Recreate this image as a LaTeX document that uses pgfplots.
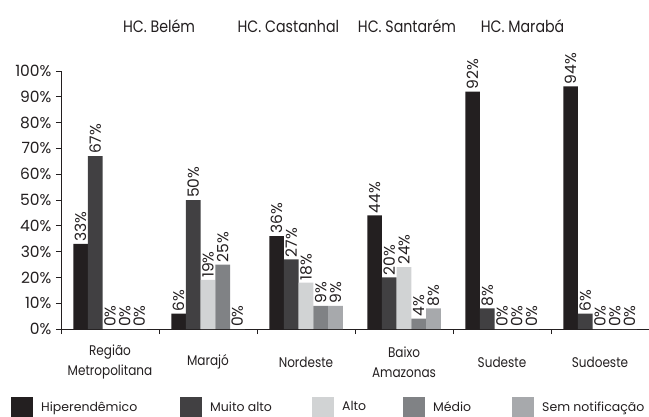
\documentclass[border=0pt]{standalone}
\usepackage{fontspec}
\setmainfont{Poppins}
\usepackage{pgfplots}
\pgfplotsset{compat=1.18}

\definecolor{hiper}{HTML}{231F20}
\definecolor{muito}{HTML}{414042}
\definecolor{alto}{HTML}{D1D3D4}
\definecolor{medio}{HTML}{808285}
\definecolor{semnot}{HTML}{A7A9AC}
\definecolor{txt}{HTML}{231F20}

% legend text in a cell of fixed width
\newcommand\leg[2]{\makebox[#1][l]{#2}}

\begin{document}
\begin{tikzpicture}[font=\fontsize{14bp}{16bp}\selectfont, text=txt]
\begin{axis}[
  scale only axis, width=588bp, height=258bp,
  xmin=-0.5, xmax=5.5, ymin=0, ymax=100,
  ybar=0pt, bar width=14.7bp,
  /pgf/number format/assume math mode=true,
  axis x line=bottom, axis y line=left,
  axis line style={-, draw=txt, line width=0.7pt},
  xtick={0,...,5},
  xticklabels={{Região\\Metropolitana}, Marajó, Nordeste, {Baixo\\Amazonas}, Sudeste, Sudoeste},
  xticklabel style={align=center, anchor=center, yshift=-28bp, xscale=0.86,
    font=\fontsize{14bp}{20.5bp}\selectfont},
  major x tick style={draw=none},
  minor xtick={-0.5,0.5,...,5.5},
  minor tick length=5bp, major tick length=5bp, tick align=outside,
  tick style={draw=txt, line width=0.7pt},
  ytick={0,10,...,100},
  yticklabel={\pgfmathprintnumber{\tick}\%},
  yticklabel style={xshift=-1bp, font=\fontsize{15.5bp}{17bp}\selectfont},
  nodes near coords={\pgfmathprintnumber{\pgfplotspointmeta}\%},
  every node near coord/.append style={rotate=90, anchor=west, inner sep=2bp, text=txt,
    font=\fontsize{15.5bp}{17bp}\selectfont},
  clip=false,
  legend image code/.code={\fill[#1] (0bp,-10bp) rectangle (22bp,10bp);},
  legend columns=5,
  legend cell align=left,
  legend style={draw=none, fill=none, inner sep=0pt, at={(axis description cs:0,0)}, anchor=west,
    xshift=-50bp, yshift=-78bp, font=\fontsize{12.5bp}{15bp}\selectfont,
    nodes={inner sep=0pt},
    /tikz/every odd column/.append style={column sep=8bp},
    /tikz/every even column/.append style={column sep=0bp}},
]
% Hiperendêmico, Muito alto, Alto, Médio, Sem notificação per region
\addplot[fill=hiper, draw=none] coordinates {(0,33) (1,6) (2,36) (3,44) (4,92) (5,94)};
\addplot[fill=muito, draw=none] coordinates {(0,67) (1,50) (2,27) (3,20) (4,8) (5,6)};
\addplot[fill=alto, draw=none] coordinates {(0,0) (1,19) (2,18) (3,24) (4,0) (5,0)};
\addplot[fill=medio, draw=none] coordinates {(0,0) (1,25) (2,9) (3,4) (4,0) (5,0)};
\addplot[fill=semnot, draw=none] coordinates {(0,0) (1,0) (2,9) (3,8) (4,0) (5,0)};
\addlegendentry{\leg{139bp}{Hiperendêmico}}
\addlegendentry{\leg{102bp}{Muito alto}}
\addlegendentry{\leg{61bp}{Alto}}
\addlegendentry{\leg{79bp}{Médio}}
\addlegendentry{\leg{100bp}{Sem notificação}}

\begin{scope}[every node/.style={font=\fontsize{16.5bp}{18bp}\selectfont, xscale=0.86}]
\node at (axis cs:0.5,117.4) {HC. Belém};
\node at (axis cs:1.82,117.4) {HC. Castanhal};
\node at (axis cs:3.03,117.4) {HC. Santarém};
\node at (axis cs:4.21,117.4) {HC. Marabá};
\end{scope}

\coordinate (bl) at (rel axis cs:0,0);
\coordinate (tr) at (rel axis cs:1,1);
\end{axis}
\pgfresetboundingbox
\path ([xshift=-61bp,yshift=-88bp]bl) rectangle ([yshift=71bp]tr);
\end{tikzpicture}
\end{document}
